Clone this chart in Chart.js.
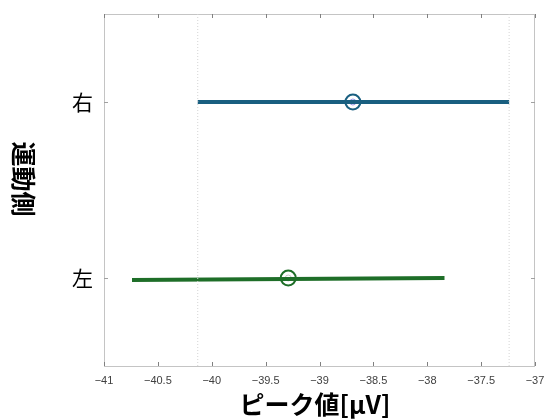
<!DOCTYPE html>
<html>
<head>
<meta charset="utf-8">
<script src="https://cdn.jsdelivr.net/npm/chart.js@4"></script>
<style>
  body { margin: 0; background: #fff; }
  #wrap { width: 546px; height: 419px; }
</style>
</head>
<body>
<div id="wrap"><canvas id="grafico" width="546" height="419"></canvas></div>
<script>
// categorias (eje y, de abajo hacia arriba)
const categorias = ["左", "右"];
const posiciones = [1, 2];

// medias e intervalos
const medias = [-39.29, -38.69];
const inferior = [-40.74, -40.13];
const superior = [-37.84, -37.24];

const alturaIzq = [0.988, 2];
const alturaDer = [1.0, 2];

const colores = ["#1e6e28", "#195f80"];
const coloresInternos = ["#c8c8c8", "#9a9ae6"];

// líneas de referencia punteadas
const referencias = [-40.13, -37.24];

const ticksX = [-41, -40.5, -40, -39.5, -39, -38.5, -38, -37.5, -37];

const datasets = [];

referencias.forEach((valor) => {
  datasets.push({
    data: [{ x: valor, y: 0.5 }, { x: valor, y: 2.5 }],
    showLine: true,
    borderColor: "#d4d4d4",
    borderWidth: 1,
    borderDash: [1, 2],
    pointRadius: 0
  });
});

categorias.forEach((cat, i) => {
  datasets.push({
    data: [{ x: inferior[i], y: alturaIzq[i] }, { x: superior[i], y: alturaDer[i] }],
    showLine: true,
    borderColor: colores[i],
    borderWidth: 4,
    pointRadius: 0
  });
  datasets.push({
    data: [{ x: medias[i], y: posiciones[i] }],
    pointRadius: 3,
    pointBorderWidth: 1,
    pointBorderColor: coloresInternos[i],
    pointBackgroundColor: "rgba(0,0,0,0)"
  });
  datasets.push({
    data: [{ x: medias[i], y: posiciones[i] }],
    pointRadius: 7.5,
    pointBorderWidth: 2,
    pointBorderColor: colores[i],
    pointBackgroundColor: "rgba(0,0,0,0)"
  });
});

const marco = {
  id: "marco",
  beforeDatasetsDraw(chart) {
    const { ctx, chartArea: a, scales } = chart;
    ctx.save();
    ctx.strokeStyle = "#c4c4c4";
    ctx.lineWidth = 1;
    ctx.strokeRect(a.left + 0.5, a.top + 0.5, a.right - a.left - 1, a.bottom - a.top);

    ctx.strokeStyle = "#808080";
    ticksX.forEach((v) => {
      const px = Math.round(scales.x.getPixelForValue(v)) + 0.5;
      ctx.beginPath();
      ctx.moveTo(px, a.bottom);
      ctx.lineTo(px, a.bottom - 4);
      ctx.moveTo(px, a.top);
      ctx.lineTo(px, a.top + 4);
      ctx.stroke();
    });
    ctx.strokeStyle = "#a0a0a0";
    posiciones.forEach((v) => {
      const py = Math.round(scales.y.getPixelForValue(v)) + 0.5;
      ctx.beginPath();
      ctx.moveTo(a.left, py);
      ctx.lineTo(a.left + 4, py);
      ctx.moveTo(a.right, py);
      ctx.lineTo(a.right - 4, py);
      ctx.stroke();
    });
    ctx.restore();
  },
  afterDraw(chart) {
    const { ctx } = chart;
    ctx.save();
    ctx.fillStyle = "#000";
    ctx.font = "bold 25px 'Noto Sans CJK JP'";
    ctx.textAlign = "center";
    ctx.textBaseline = "middle";
    ctx.fillText("ピーク値[μV]", 315, 404);

    ctx.translate(23, 179);
    ctx.rotate(Math.PI / 2);
    ctx.fillText("運動側", 0, 0);
    ctx.restore();
  }
};

new Chart(document.querySelector("#grafico"), {
  type: "scatter",
  data: { datasets: datasets },
  options: {
    responsive: false,
    animation: false,
    layout: { padding: { top: 14, right: 11, left: 0, bottom: 0 } },
    plugins: { legend: { display: false }, tooltip: { enabled: false } },
    scales: {
      x: {
        type: "linear",
        min: -41,
        max: -37,
        afterBuildTicks: (scale) => {
          scale.ticks = ticksX.map((v) => ({ value: v }));
        },
        afterFit: (scale) => {
          scale.height = 53;
          scale.paddingLeft = 0;
          scale.paddingRight = 0;
        },
        grid: { display: false },
        border: { display: false },
        ticks: {
          padding: 0,
          color: "#404040",
          font: { family: "'Liberation Sans'", size: 11 },
          callback: (v) => String(v).replace("-", "\u2212")
        }
      },
      y: {
        type: "linear",
        min: 0.5,
        max: 2.5,
        afterBuildTicks: (scale) => {
          scale.ticks = posiciones.map((v) => ({ value: v }));
        },
        afterFit: (scale) => {
          scale.width = 104;
          scale.paddingTop = 0;
          scale.paddingBottom = 0;
        },
        grid: { display: false },
        border: { display: false },
        ticks: {
          padding: 3,
          color: "#000",
          font: { family: "'Noto Sans CJK JP'", size: 21 },
          callback: (v) => categorias[posiciones.indexOf(v)]
        }
      }
    }
  },
  plugins: [marco]
});
</script>
</body>
</html>
